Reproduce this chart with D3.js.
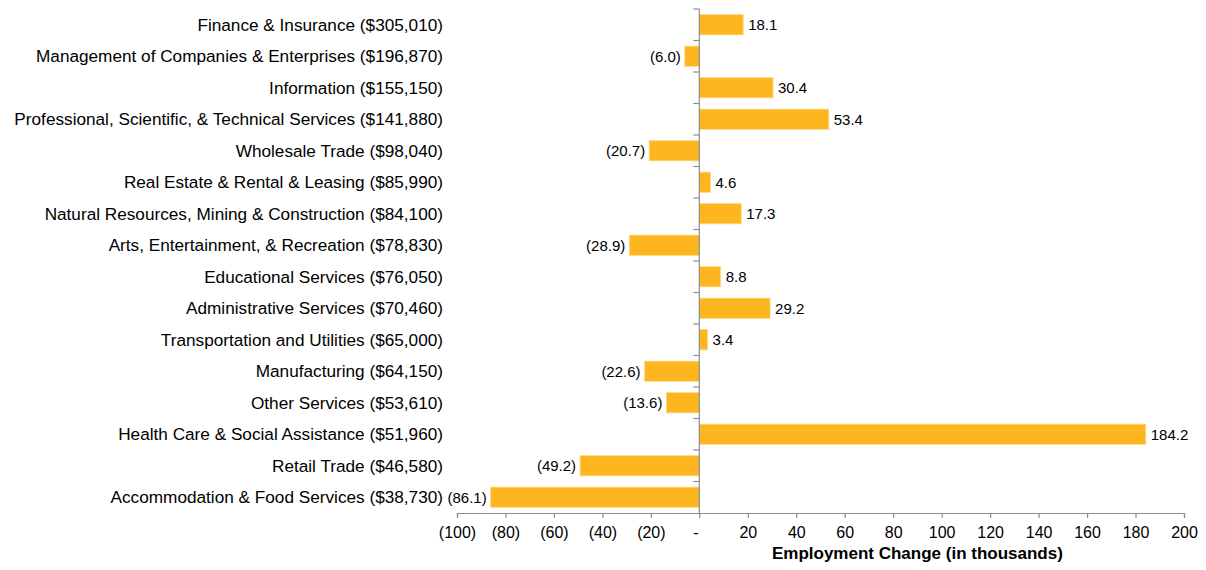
<!DOCTYPE html>
<html>
<head>
<meta charset="utf-8">
<script src="https://cdn.jsdelivr.net/npm/d3@7"></script>
<style>
  body { margin: 0; background: #fff; }
  text { font-family: Arial, "Liberation Sans", sans-serif; fill: #000; }
</style>
</head>
<body>
<svg width="1206" height="570"></svg>
<script>
var svg = d3.select("svg"),
    width = +svg.attr("width"),
    height = +svg.attr("height");

// industries (avg wage) and employment change, in thousands
var industries = [
  "Finance & Insurance ($305,010)",
  "Management of Companies & Enterprises ($196,870)",
  "Information ($155,150)",
  "Professional, Scientific, & Technical Services ($141,880)",
  "Wholesale Trade ($98,040)",
  "Real Estate & Rental & Leasing ($85,990)",
  "Natural Resources, Mining & Construction ($84,100)",
  "Arts, Entertainment, & Recreation ($78,830)",
  "Educational Services ($76,050)",
  "Administrative Services ($70,460)",
  "Transportation and Utilities ($65,000)",
  "Manufacturing ($64,150)",
  "Other Services ($53,610)",
  "Health Care & Social Assistance ($51,960)",
  "Retail Trade ($46,580)",
  "Accommodation & Food Services ($38,730)"
];
var changes = [18.1, -6.0, 30.4, 53.4, -20.7, 4.6, 17.3, -28.9, 8.8, 29.2, 3.4, -22.6, -13.6, 184.2, -49.2, -86.1];
var xTicks = [-100, -80, -60, -40, -20, 0, 20, 40, 60, 80, 100, 120, 140, 160, 180, 200];
var xTitle = "Employment Change (in thousands)";

var margin = {top: 9, left: 457, right: 22, bottom: 57};
var plotBottom = height - margin.bottom;

var x = d3.scaleLinear().domain([-100, 200]).range([margin.left, width - margin.right]);
var y = d3.scaleBand().domain(industries).range([margin.top, plotBottom]).paddingInner(0.36).paddingOuter(0.18);

var data = industries.map(function(d, i) { return {name: d, value: changes[i]}; });

function fmt(v, digits) {
  if (v === 0) return "-";
  var s = d3.format("." + digits + "f")(Math.abs(v));
  return v < 0 ? "(" + s + ")" : s;
}

// bars
svg.append("g").selectAll("rect")
  .data(data)
  .enter().append("rect")
    .attr("x", function(d) { return x(Math.min(0, d.value)); })
    .attr("y", function(d) { return y(d.name); })
    .attr("width", function(d) { return Math.abs(x(d.value) - x(0)); })
    .attr("height", y.bandwidth())
    .attr("fill", "#FDB620")
    .attr("stroke", "#FCD77E")
    .attr("stroke-width", 0.8);

// value labels
svg.append("g").selectAll("text")
  .data(data)
  .enter().append("text")
    .attr("x", function(d) { return d.value < 0 ? x(d.value) - 4 : x(d.value) + 5; })
    .attr("y", function(d) { return y(d.name) + y.bandwidth() / 2; })
    .attr("dy", "0.35em")
    .attr("text-anchor", function(d) { return d.value < 0 ? "end" : "start"; })
    .style("font-size", "15px")
    .text(function(d) { return fmt(d.value, 1); });

// category labels
svg.append("g").selectAll("text")
  .data(industries)
  .enter().append("text")
    .attr("x", 443)
    .attr("y", function(d) { return y(d) + y.bandwidth() / 2; })
    .attr("dy", "0.35em")
    .attr("text-anchor", "end")
    .style("font-size", "17.2px")
    .text(function(d) { return d; });

// vertical zero axis with ticks between categories
var step = y.step();
var vAxis = svg.append("g").attr("stroke", "#8c8c8c").attr("stroke-width", 1.2);
vAxis.append("line")
  .attr("x1", x(0)).attr("x2", x(0))
  .attr("y1", margin.top).attr("y2", plotBottom);
vAxis.selectAll("line.tick")
  .data(d3.range(industries.length))
  .enter().append("line")
    .attr("class", "tick")
    .attr("x1", x(0) - 6).attr("x2", x(0))
    .attr("y1", function(i) { return margin.top + i * step; })
    .attr("y2", function(i) { return margin.top + i * step; });

// bottom axis
var xAxis = svg.append("g")
  .attr("transform", "translate(0," + plotBottom + ")")
  .call(d3.axisBottom(x).tickValues(xTicks).tickSize(5).tickPadding(9)
    .tickFormat(function(d) { return fmt(d, 0); }));
xAxis.select(".domain").attr("stroke", "#8c8c8c").attr("stroke-width", 1.2);
xAxis.selectAll(".tick line").attr("stroke", "#8c8c8c").attr("stroke-width", 1.2);
xAxis.selectAll(".tick text")
  .style("font-size", "16px")
  .style("font-family", "Arial, 'Liberation Sans', sans-serif")
  .attr("fill", "#000")
  .attr("dx", function(d) { return d === 0 ? -4 : 0; });

svg.append("text")
  .attr("x", x(90))
  .attr("y", 559)
  .attr("text-anchor", "middle")
  .style("font-size", "17px")
  .style("font-weight", "bold")
  .text(xTitle);
</script>
</body>
</html>
